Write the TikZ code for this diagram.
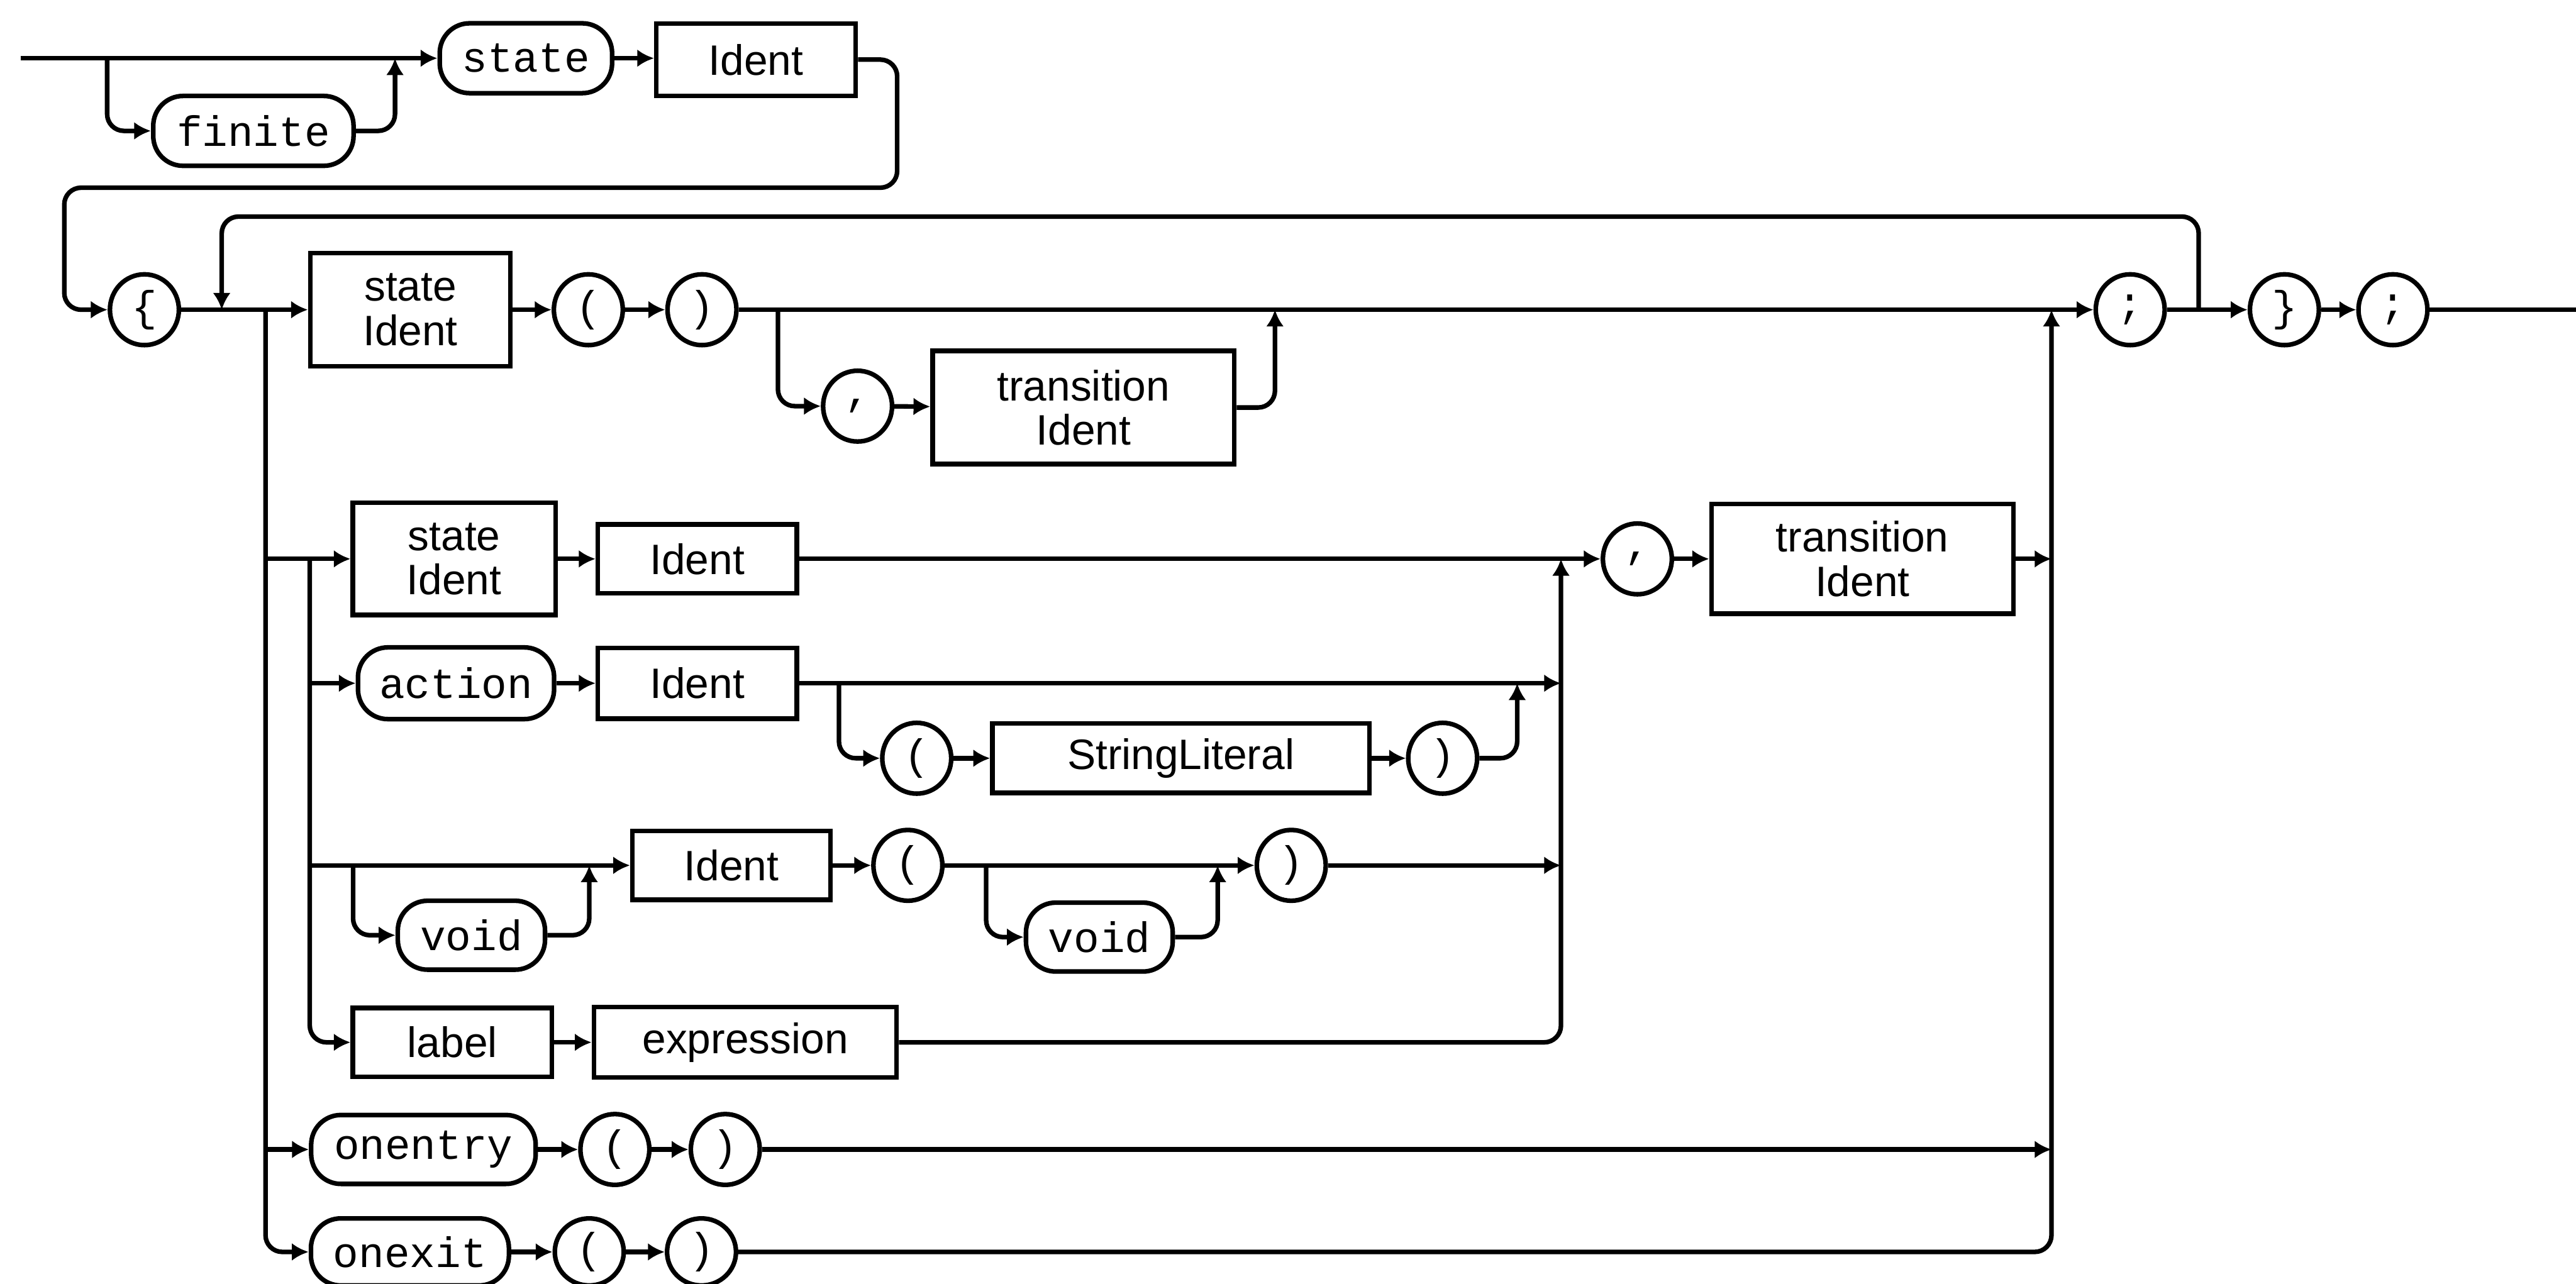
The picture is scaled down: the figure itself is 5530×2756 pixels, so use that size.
\documentclass[tikz,border=0pt]{standalone}
\usepackage{fontspec}
\setmainfont{Liberation Sans}
\setmonofont{Liberation Mono}
\usepackage{tikz}
\usetikzlibrary{arrows.meta,shapes.geometric}

\begin{document}
\begin{tikzpicture}[
  x=0.05mm, y=-0.05mm,
  every node/.style={font=\fontsize{13pt}{13.5pt}\selectfont},
  box/.style={
    draw, line width=1.4pt, rectangle, align=center,
    minimum height=7.5mm, inner sep=1pt
  },
  kw/.style={
    draw, line width=1.4pt, rectangle, rounded corners=3.2mm,
    minimum height=7.5mm, inner sep=1pt,
    font=\ttfamily\fontsize{13pt}{13.5pt}\selectfont
  },
  tok/.style={
    draw, line width=1.4pt, ellipse, inner sep=0pt,
    minimum width=7.4mm, minimum height=7.6mm,
    font=\ttfamily\fontsize{13pt}{13.5pt}\selectfont
  },
  rail/.style={line width=1.4pt, rounded corners=1.8mm},
  arr/.style={rail, -{Latex[length=1.8mm, width=1.9mm]}}
]
  \useasboundingbox (0,0) rectangle (5530,2756);

  % header: [finite] state Ident
  \coordinate (start) at (44,125);
  \coordinate (fsplit) at (230,125);
  \coordinate (fjoin) at (848,125);
  \node[kw, minimum width=21.5mm] (finite) at (544,281) {finite};
  \node[kw, minimum width=18.5mm] (kstate) at (1129,125) {state};
  \node[box, minimum width=21.4mm, minimum height=7.75mm] (sname) at (1623,128) {Ident};
  \coordinate (rret) at (1926,403);
  \coordinate (lret) at (138,665);

  % main line
  \node[tok] (lbrace) at (310,665) {\{};
  \coordinate (loopin) at (476,665);
  \coordinate (loopL) at (476,465);
  \coordinate (trunkA) at (570,665);
  \node[box, minimum width=21.5mm, minimum height=12.15mm] (sid) at (881,665) {state\\Ident};
  \node[tok] (mlp) at (1263,665) {(};
  \node[tok] (mrp) at (1507,665) {)};
  \coordinate (tsplit) at (1670,665);
  \node[tok] (mcomma) at (1841,872) {,};
  \node[box, minimum width=32.4mm, minimum height=12.15mm] (mtrans) at (2326,875) {transition\\Ident};
  \coordinate (tjoin) at (2737,665);
  \coordinate (mergeR) at (4404,665);
  \node[tok] (semi) at (4573,665) {;};
  \coordinate (loopout) at (4720,665);
  \node[tok] (rbrace) at (4904,665) {\}};
  \node[tok] (semiend) at (5137,665) {;};
  \coordinate (finish) at (5530,665);

  % row: state Ident -> Ident , transition Ident
  \coordinate (r2a) at (570,1200);
  \coordinate (trunkB) at (665,1200);
  \node[box, minimum width=21.75mm, minimum height=12.05mm] (sid2) at (975,1200) {state\\Ident};
  \node[box, minimum width=21.35mm, minimum height=7.4mm] (iid2) at (1497,1200) {Ident};
  \coordinate (mergeM) at (3351,1200);
  \node[tok] (comma2) at (3515,1200) {,};
  \node[box, minimum width=32.4mm, minimum height=11.75mm] (trans2) at (3998,1200) {transition\\Ident};
  \coordinate (r2R) at (4404,1200);

  % row: action Ident [( StringLiteral )]
  \coordinate (r3a) at (665,1467);
  \node[kw, minimum width=21.05mm, minimum height=7.7mm] (kaction) at (979,1467) {action};
  \node[box, minimum width=21.35mm, minimum height=7.6mm] (iid3) at (1497,1467) {Ident};
  \coordinate (ssplit) at (1801,1467);
  \node[tok] (slp) at (1968,1628) {(};
  \node[box, minimum width=40.45mm, minimum height=7.45mm] (strlit) at (2535,1628) {StringLiteral};
  \node[tok] (srp) at (3097,1628) {)};
  \coordinate (sjoin) at (3257,1467);
  \coordinate (r3M) at (3351,1467);

  % row: [void] Ident ( [void] )
  \coordinate (r5a) at (665,1858);
  \coordinate (vsplit) at (758,1858);
  \node[kw, minimum width=15.8mm, minimum height=7.4mm] (void1) at (1012,2008) {void};
  \coordinate (vjoin) at (1265,1858);
  \node[box, minimum width=21.25mm, minimum height=7.4mm] (iid5) at (1570,1858) {Ident};
  \node[tok] (lp5) at (1949,1858) {(};
  \coordinate (v2split) at (2117,1858);
  \node[kw, minimum width=15.75mm, minimum height=7.4mm] (void2) at (2360,2012) {void};
  \coordinate (v2join) at (2614,1858);
  \node[tok] (rp5) at (2772,1858) {)};
  \coordinate (r5M) at (3351,1858);

  % row: label expression
  \node[box, minimum width=21.35mm, minimum height=7.4mm] (klabel) at (971,2238) {label};
  \node[box, minimum width=32.5mm, minimum height=7.55mm] (expr) at (1600,2238) {expression};

  % rows: onentry ( ) / onexit ( )
  \coordinate (r7a) at (570,2468);
  \node[kw, minimum width=24.1mm, minimum height=7.4mm] (kentry) at (909,2468) {onentry};
  \node[tok] (lp7) at (1320,2468) {(};
  \node[tok] (rp7) at (1557,2468) {)};
  \coordinate (r7R) at (4404,2468);
  \node[kw, minimum width=21.25mm, minimum height=7.2mm] (kexit) at (880,2688) {onexit};
  \node[tok, minimum height=7.2mm] (lp8) at (1265,2688) {(};
  \node[tok, minimum height=7.2mm] (rp8) at (1506,2688) {)};

  \draw[arr] (start) -- (kstate);
  \draw[arr] (fsplit) |- (finite.west);
  \draw[arr] (finite.east) -| (fjoin);
  \draw[arr] (kstate) -- (kstate -| sname.west);
  \draw[arr] (sname.east) -| (rret) -| (lret) -- (lbrace.west);

  \draw[arr] (lbrace) -- (sid);
  \draw[arr] (loopout) |- (loopL) -- (loopin);
  \draw[arr] (sid) -- (mlp);
  \draw[arr] (mlp) -- (mrp);
  \draw[arr] (mrp) -- (semi);
  \draw[arr] (tsplit) |- (mcomma.west);
  \draw[arr] (mcomma) -- (mtrans);
  \draw[arr] (mtrans.east) -| (tjoin);
  \draw[arr] (semi) -- (rbrace);
  \draw[arr] (rbrace) -- (semiend);
  \draw[rail] (semiend) -- (finish);

  \draw[arr] (trunkA) |- (kexit.west);
  \draw[arr] (r2a) -- (sid2.west);
  \draw[arr] (trunkB) |- (klabel.west);
  \draw[arr] (sid2) -- (iid2);
  \draw[arr] (iid2) -- (comma2);
  \draw[arr] (comma2) -- (trans2);
  \draw[arr] (trans2.east) -- (r2R);

  \draw[arr] (r3a) -- (kaction.west);
  \draw[arr] (kaction) -- (iid3);
  \draw[arr] (iid3.east) -- (r3M);
  \draw[arr] (ssplit) |- (slp.west);
  \draw[arr] (slp) -- (strlit);
  \draw[arr] (strlit) -- (srp);
  \draw[arr] (srp.east) -| (sjoin);

  \draw[arr] (r5a) -- (iid5.west);
  \draw[arr] (vsplit) |- (void1.west);
  \draw[arr] (void1.east) -| (vjoin);
  \draw[arr] (iid5) -- (lp5);
  \draw[arr] (lp5) -- (rp5);
  \draw[arr] (v2split) |- (void2.west);
  \draw[arr] (void2.east) -| (v2join);
  \draw[arr] (rp5.east) -- (r5M);

  \draw[arr] (klabel) -- (expr);
  \draw[arr] (expr.east) -| (mergeM);

  \draw[arr] (r7a) -- (kentry.west);
  \draw[arr] (kentry) -- (lp7);
  \draw[arr] (lp7) -- (rp7);
  \draw[arr] (rp7.east) -- (r7R);
  \draw[arr] (kexit) -- (lp8);
  \draw[arr] (lp8) -- (rp8);
  \draw[arr] (rp8.east) -| (mergeR);
\end{tikzpicture}
\end{document}
